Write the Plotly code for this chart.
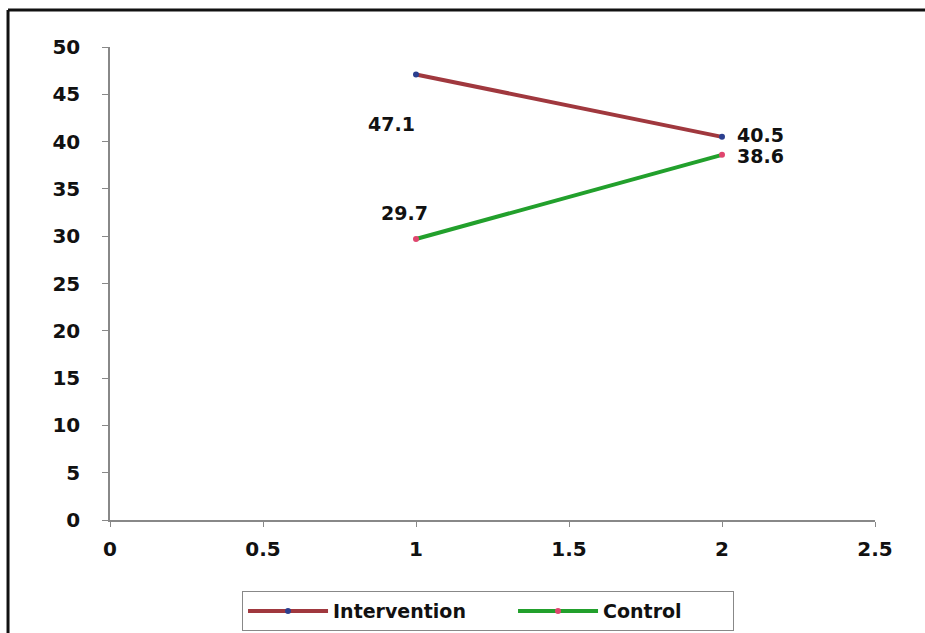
import plotly.graph_objects as go

# Measurement occasions and group means
occasions = [1, 2]
intervention = [47.1, 40.5]
control = [29.7, 38.6]
series_names = ["Intervention", "Control"]

x_ticks = [0, 0.5, 1, 1.5, 2, 2.5]
x_tick_text = ["0", "0.5", "1", "1.5", "2", "2.5"]
y_ticks = [0, 5, 10, 15, 20, 25, 30, 35, 40, 45, 50]

FONT = "DejaVu Sans"

fig = go.Figure()

fig.add_trace(go.Scatter(
    x=occasions, y=intervention, name=series_names[0],
    mode="lines+markers",
    line=dict(color="#A0383E", width=4),
    marker=dict(color="#2B3F8F", size=6),
    legendwidth=175,
))
fig.add_trace(go.Scatter(
    x=occasions, y=control, name=series_names[1],
    mode="lines+markers",
    line=dict(color="#22A02C", width=4),
    marker=dict(color="#E0456E", size=6),
    legendwidth=125,
))

# Value labels placed beside each point
label_offsets = {
    (0, 0): (-25, -50), (0, 1): (38, 2),
    (1, 0): (-12, 26), (1, 1): (38, -1),
}
for si, vals in enumerate([intervention, control]):
    for pi, (xv, yv) in enumerate(zip(occasions, vals)):
        dx, dy = label_offsets[(si, pi)]
        fig.add_annotation(
            x=xv, y=yv, xref="x", yref="y", text=f"{yv}",
            showarrow=False, xshift=dx, yshift=dy,
            font=dict(family=FONT, size=19, color="#111111", weight="bold"),
        )

# Frame lines along the top and left edge of the page
fig.add_shape(type="line", xref="paper", yref="paper",
              x0=-0.1333, x1=1.07, y0=1.0782, y1=1.0782,
              line=dict(color="#111111", width=3))
fig.add_shape(type="line", xref="paper", yref="paper",
              x0=-0.1333, x1=-0.1333, y0=1.0782, y1=-0.25,
              line=dict(color="#111111", width=3))

fig.update_layout(
    width=925, height=633,
    margin=dict(l=110, r=50, t=47, b=113),
    paper_bgcolor="white", plot_bgcolor="white",
    showlegend=True,
    legend=dict(
        orientation="h", xref="container", yref="container",
        x=0.5276, xanchor="center", y=0.003, yanchor="bottom",
        bordercolor="#888888", borderwidth=1, bgcolor="white",
        font=dict(family=FONT, size=19, color="#111111", weight="bold"),
        itemwidth=80, itemclick=False,
    ),
    xaxis=dict(
        range=[0, 2.5], tickvals=x_ticks, ticktext=x_tick_text,
        showgrid=False, zeroline=False, showline=True,
        linecolor="#888888", linewidth=1.5,
        ticks="outside", ticklen=5, tickcolor="#888888",
        ticklabelstandoff=5,
        tickfont=dict(family=FONT, size=20, color="#111111", weight="bold"),
    ),
    yaxis=dict(
        range=[0, 50], tickvals=y_ticks,
        showgrid=False, zeroline=False, showline=True,
        linecolor="#888888", linewidth=1.5,
        ticks="outside", ticklen=6, tickcolor="#888888",
        ticklabelstandoff=18,
        tickfont=dict(family=FONT, size=20, color="#111111", weight="bold"),
    ),
)

fig.write_html("out.html")
